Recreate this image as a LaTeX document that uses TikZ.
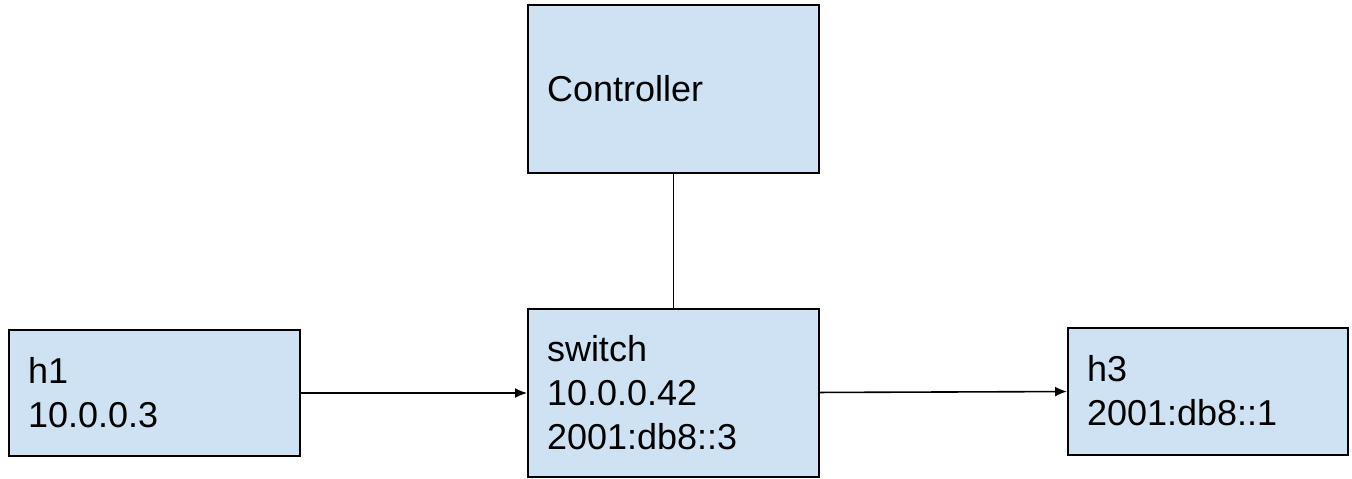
\documentclass[tikz,border=0pt]{standalone}
\usepackage{fontspec}
\setmainfont{Liberation Sans}
\usepackage{xcolor}
\usepackage{tikz}
\usetikzlibrary{positioning, arrows.meta}

\definecolor{boxblue}{HTML}{CFE2F3}

\begin{document}
\begin{tikzpicture}[
    box/.style={draw=black, line width=1pt, fill=boxblue, rectangle,
        inner xsep=9.5pt, inner ysep=0pt, align=left,
        font=\fontsize{18}{22}\selectfont},
    link/.style={line width=0.8pt, -{Latex[length=6pt, width=5pt]}}
    ]

            \useasboundingbox (0,0) rectangle (676pt,-239pt);

            \node[box] (sw) at (336.75pt,-196.5pt) [text width=126.5pt, minimum height=84pt] {switch\\10.0.0.42\\2001:db8::3}; %switch
            \node[box] (ctrl) [text width=126.5pt, minimum height=84pt, above=67pt of sw] {Controller}; %controller

            \node[box] (h1) [text width=126.5pt, minimum height=63pt, left=113pt of sw] {h1\\10.0.0.3}; %host 1
            \node[box] (h3) [text width=121pt, minimum height=63.5pt, right=123.5pt of sw, yshift=1pt] {h3\\2001:db8::1}; %host 3

            \draw[line width=0.8pt] (ctrl) -- (sw);
            \draw[link] (h1) -- (sw);
            \draw[link] (sw) -- (h3);

\end{tikzpicture}
\end{document}
